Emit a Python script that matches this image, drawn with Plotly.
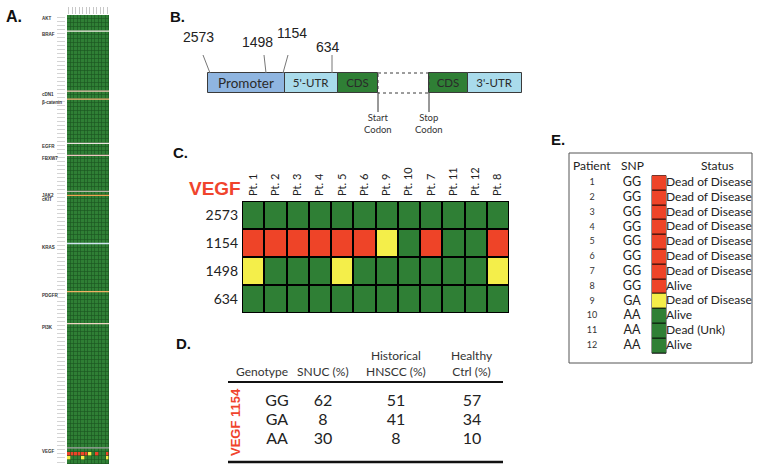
import plotly.graph_objects as go
import numpy as np

W, H = 764, 473
def px(x): return x / W
def py(y): return 1 - y / H

GREEN, YELLOW, RED = "#2f7f35", "#f4ee4a", "#ee4428"
CSCALE = [[0, GREEN], [0.333, GREEN], [0.333, YELLOW], [0.667, YELLOW], [0.667, RED], [1, RED]]
TXT = "#2a2a2a"
SANS = "Lato"
ARIAL = "Liberation Sans"

# ---------------- Panel A data ----------------
genes_a = ["AKT", "BRAF", "cDN1", "β-catenin", "EGFR", "FBXW7", "JAK2", "cKIT", "KRAS", "PDGFR", "PI3K", "VEGF"]
gene_rows_a = [4, 15, 2, 11, 3, 9, 1, 12, 12, 8, 31, 4]
sep_colors_a = ["#f4efe6", "#f0c8b4", "#f0b274", "#ece4e0", "#f0c8c0", "#b8b8a8",
                "#f0a454", "#cfe3f0", "#f0b064", "#f0d4c4", "#a8a8a8"]
vegf_a = [[0, 0, 0, 0, 0, 0, 0, 0, 0, 0, 0, 0],
          [2, 2, 2, 2, 2, 2, 1, 0, 2, 0, 0, 2],
          [1, 0, 0, 0, 1, 0, 0, 0, 0, 0, 0, 1],
          [0, 0, 0, 0, 0, 0, 0, 0, 0, 0, 0, 0]]

# ---------------- Panel B data ----------------
seg_names_b = ["Promoter", "5'-UTR", "CDS", "", "CDS", "3'-UTR"]
seg_len_b = [77, 53, 40, 51, 39, 54]
seg_colors_b = ["#8fb5e0", "#a9dbeb", GREEN, "white", GREEN, "#a9dbeb"]
snp_names_b = ["2573", "1498", "1154", "634"]
snp_pos_b = [2, 58, 75, 124]

# ---------------- Panel C data ----------------
pt_labels_c = ["Pt. 1", "Pt. 2", "Pt. 3", "Pt. 4", "Pt. 5", "Pt. 6", "Pt. 9", "Pt. 10", "Pt. 7", "Pt. 11", "Pt. 12", "Pt. 8"]
snp_rows_c = ["2573", "1154", "1498", "634"]
geno_2573 = [0, 0, 0, 0, 0, 0, 0, 0, 0, 0, 0, 0]
geno_1154 = [2, 2, 2, 2, 2, 2, 1, 0, 2, 0, 0, 2]
geno_1498 = [1, 0, 0, 0, 1, 0, 0, 0, 0, 0, 0, 1]
geno_634 = [0, 0, 0, 0, 0, 0, 0, 0, 0, 0, 0, 0]

# ---------------- Panel D data ----------------
genotypes_d = ["GG", "GA", "AA"]
snuc_pct = [62, 8, 30]
hnscc_pct = [51, 41, 8]
healthy_pct = [57, 34, 10]
headers_d = ["Genotype", "SNUC (%)", "Historical<br>HNSCC (%)", "Healthy<br>Ctrl (%)"]

# ---------------- Panel E data ----------------
patients_e = [1, 2, 3, 4, 5, 6, 7, 8, 9, 10, 11, 12]
snp_e = ["GG", "GG", "GG", "GG", "GG", "GG", "GG", "GG", "GA", "AA", "AA", "AA"]
code_e = [2, 2, 2, 2, 2, 2, 2, 2, 1, 0, 0, 0]
status_e = ["Dead of Disease"] * 7 + ["Alive", "Dead of Disease", "Alive", "Dead (Unk)", "Alive"]

fig = go.Figure()
shapes, annots = [], []

# ======== Panel A ========
nrows_a = sum(gene_rows_a)
z_a = np.zeros((nrows_a, 12))
z_a[-4:, :] = np.array(vegf_a)
fig.add_trace(go.Heatmap(z=z_a, x=list(range(12)), y=list(range(nrows_a)), colorscale=CSCALE,
                         zmin=0, zmax=2, showscale=False, xgap=0.6, ygap=0.6,
                         xaxis="x", yaxis="y", hoverinfo="skip"))
starts_a = np.concatenate([[0], np.cumsum(gene_rows_a)[:-1]])
shapes.append(dict(type="rect", xref="x", yref="y", x0=-0.5, x1=11.5, y0=-0.5, y1=nrows_a - 0.5,
                   fillcolor="#1c5420", line=dict(width=0), layer="below"))
for g, s in zip(genes_a, starts_a):
    annots.append(dict(x=px(40), xref="paper", xanchor="left", yanchor="middle", y=s + 0.4, yref="y",
                       text=f"<b>{g}</b>", showarrow=False,
                       font=dict(family=ARIAL, size=4.5, color="#333")))
for s, c in zip(starts_a[1:], sep_colors_a):
    shapes.append(dict(type="line", xref="x", yref="y", x0=-0.5, x1=11.5, y0=s - 0.5, y1=s - 0.5,
                       line=dict(color=c, width=1.3)))

# ======== Panel B ========
starts_b = np.concatenate([[0], np.cumsum(seg_len_b)[:-1]])
fig.add_trace(go.Bar(y=[83] * 6, x=seg_len_b, base=starts_b, orientation="h", width=20,
                     marker=dict(color=seg_colors_b, line=dict(color="#3a3a3a", width=[1, 1, 1, 0, 1, 1])),
                     text=seg_names_b, textposition="inside", insidetextanchor="middle", textangle=0,
                     constraintext="none",
                     insidetextfont=dict(family=SANS, size=[13.5, 11.5, 11.5, 11, 11.5, 11.5], color=TXT),
                     textfont=dict(family=SANS, size=[13.5, 11.5, 11.5, 11, 11.5, 11.5], color=TXT),
                     xaxis="x3", yaxis="y3", hoverinfo="skip", showlegend=False))
mid0, mid1 = starts_b[3], starts_b[3] + seg_len_b[3]
shapes.append(dict(type="rect", xref="x3", yref="y3", x0=mid0, x1=mid1, y0=73, y1=93,
                   line=dict(color="#3a3a3a", width=1, dash="dot")))
lab_dx_b = [-12, -9, 9, -4]
lab_y_b = [37, 42, 33, 47]
top_dx_b = [-7, -2, 5, 0]
for name, pos, dx, ly, tx in zip(snp_names_b, snp_pos_b, lab_dx_b, lab_y_b, top_dx_b):
    fig.add_trace(go.Scatter(x=[pos + tx, pos], y=[55, 73], mode="lines", line=dict(color="#777", width=1),
                             xaxis="x3", yaxis="y3", hoverinfo="skip", showlegend=False))
    annots.append(dict(x=pos + dx, y=ly, xref="x3", yref="y3", text=name, showarrow=False,
                       xanchor="center", yanchor="middle",
                       font=dict(family=ARIAL, size=14, color="#222")))
for xc, lab in zip([mid0, mid1], ["Start<br>Codon", "Stop<br>Codon"]):
    fig.add_trace(go.Scatter(x=[xc, xc], y=[93, 112], mode="lines", line=dict(color="#333", width=1),
                             xaxis="x3", yaxis="y3", hoverinfo="skip", showlegend=False))
    annots.append(dict(x=xc, y=123, xref="x3", yref="y3", text=lab, showarrow=False,
                       xanchor="center", yanchor="middle",
                       font=dict(family=SANS, size=9.5, color="#333")))

# ======== Panel C ========
z_c = [geno_2573, geno_1154, geno_1498, geno_634]
fig.add_trace(go.Heatmap(z=z_c, x=list(range(12)), y=list(range(4)), colorscale=CSCALE, zmin=0, zmax=2,
                         showscale=False, xgap=2, ygap=2, xaxis="x2", yaxis="y2", hoverinfo="skip"))
shapes.append(dict(type="rect", xref="x2", yref="y2", x0=-0.5, x1=11.5, y0=-0.5, y1=3.5,
                   fillcolor="black", line=dict(color="black", width=2), layer="below"))
shapes.append(dict(type="line", xref="x2", yref="y2", x0=-0.5, x1=11.5, y0=3.58, y1=3.58,
                   line=dict(color="#3b8a9a", width=1.5)))
annots.append(dict(x=px(215), y=py(188), xref="paper", yref="paper", text="<b>VEGF</b>", showarrow=False,
                   xanchor="center", yanchor="middle",
                   font=dict(family=ARIAL, size=19, color="#f0442c")))

# ======== Panel D ========
col_x_d = [277, 323, 396, 472]
head_x_d = [262, 323, 396, 472]
row_y_d = [402, 421, 440]
for xc, vals in zip(col_x_d, [genotypes_d, snuc_pct, hnscc_pct, healthy_pct]):
    fig.add_trace(go.Scatter(x=[xc] * 3, y=row_y_d, mode="text", text=[str(v) for v in vals],
                             textfont=dict(family=SANS, size=16, color="#222"), cliponaxis=False,
                             xaxis="x4", yaxis="y4", hoverinfo="skip", showlegend=False))
for hx, h in zip(head_x_d, headers_d):
    annots.append(dict(x=hx, y=381, xref="x4", yref="y4", yanchor="bottom", xanchor="center", text=h,
                       showarrow=False, font=dict(family=SANS, size=12, color="#333")))
for yy, ww in [(382, 2), (462, 2.5)]:
    shapes.append(dict(type="line", xref="x4", yref="y4", x0=228, x1=503, y0=yy, y1=yy,
                       line=dict(color="#111", width=ww)))
annots.append(dict(x=235, y=422, xref="x4", yref="y4", text="<b>VEGF 1154</b>", textangle=-90,
                   xanchor="center", yanchor="middle",
                   showarrow=False, font=dict(family=ARIAL, size=13, color="#f0442c")))

# ======== Panel E ========
fig.add_trace(go.Heatmap(z=[[c] for c in code_e], x=[652, 666], y=[i + 0.5 for i in range(13)],
                         colorscale=CSCALE, zmin=0, zmax=2, showscale=False, ygap=1,
                         xaxis="x5", yaxis="y5", hoverinfo="skip"))
shapes.append(dict(type="rect", xref="x5", yref="y5", x0=652, x1=666, y0=0.5, y1=12.5,
                   fillcolor="black", line=dict(color="#222", width=1), layer="below"))
fig.add_trace(go.Scatter(x=[592] * 12, y=patients_e, mode="text", text=[str(p) for p in patients_e],
                         textfont=dict(family=SANS, size=9, color="#333"), cliponaxis=False,
                         xaxis="x5", yaxis="y5", hoverinfo="skip", showlegend=False))
fig.add_trace(go.Scatter(x=[632] * 12, y=patients_e, mode="text", text=snp_e,
                         textfont=dict(family=SANS, size=12.5, color="#222"), cliponaxis=False,
                         xaxis="x5", yaxis="y5", hoverinfo="skip", showlegend=False))
fig.add_trace(go.Scatter(x=[666] * 12, y=patients_e, mode="text", text=status_e, textposition="middle right",
                         textfont=dict(family=SANS, size=12, color="#222"), cliponaxis=False,
                         xaxis="x5", yaxis="y5", hoverinfo="skip", showlegend=False))
for hx, h in zip([592, 632, 717], ["Patient", "SNP", "Status"]):
    annots.append(dict(x=hx, y=-0.15, xref="x5", yref="y5", text=h, showarrow=False,
                       xanchor="center", yanchor="middle",
                       font=dict(family=SANS, size=12, color="#222")))
shapes.append(dict(type="rect", xref="paper", yref="paper", x0=px(569), x1=px(752), y0=py(363), y1=py(153),
                   line=dict(color="#555", width=1)))

# ======== Panel letters ========
for lab, x, y, s in [("A.", 4, 17, 16), ("B.", 168, 16, 15), ("C.", 171, 152, 15),
                     ("D.", 174, 343, 15), ("E.", 549, 139, 15)]:
    annots.append(dict(x=px(x), y=py(y), xref="paper", yref="paper", xanchor="left", yanchor="middle",
                       text=f"<b>{lab}</b>", showarrow=False, font=dict(family=ARIAL, size=s, color="#111")))

hidden = dict(showgrid=False, zeroline=False, showticklabels=False, ticks="", showline=False)
fig.update_layout(
    width=W, height=H, margin=dict(l=0, r=0, t=0, b=0), paper_bgcolor="white", plot_bgcolor="rgba(0,0,0,0)",
    font=dict(family=SANS, color=TXT), showlegend=False,
    xaxis=dict(domain=[px(67), px(109)], range=[-0.5, 11.5], side="top", tickvals=list(range(12)),
               ticks="outside", ticklen=7, tickcolor="#c8c8c8", showticklabels=False,
               showgrid=False, zeroline=False),
    yaxis=dict(domain=[py(464), py(15)], range=[nrows_a - 0.5, -0.5], tickvals=list(range(nrows_a)),
               ticks="outside", ticklen=8, tickcolor="#d4d4d4", showticklabels=False,
               showgrid=False, zeroline=False, anchor="free", position=px(65)),
    xaxis2=dict(domain=[px(242), px(509)], range=[-0.5, 11.5], side="top", tickvals=list(range(12)),
                ticktext=pt_labels_c, tickangle=-90, tickfont=dict(family=SANS, size=11, color="#222"),
                ticks="", showgrid=False, zeroline=False, anchor="y2", ticklabelstandoff=4),
    yaxis2=dict(domain=[py(313), py(201)], range=[3.5, -0.5], tickvals=list(range(4)), ticktext=snp_rows_c,
                tickfont=dict(family=SANS, size=14, color="#222"), ticks="", showgrid=False,
                zeroline=False, anchor="x2", ticklabelstandoff=3),
    xaxis3=dict(domain=[px(170), px(540)], range=[-38, 332], anchor="y3", **hidden),
    yaxis3=dict(domain=[py(140), 1], range=[140, 0], anchor="x3", **hidden),
    xaxis4=dict(domain=[px(200), px(510)], range=[200, 510], anchor="y4", **hidden),
    yaxis4=dict(domain=[py(470), py(340)], range=[470, 340], anchor="x4", **hidden),
    xaxis5=dict(domain=[px(569), px(752)], range=[569, 752], anchor="y5", **hidden),
    yaxis5=dict(domain=[py(363), py(153)], range=[13.16, -1.027], anchor="x5", **hidden),
    shapes=shapes, annotations=annots, bargap=0,
)
fig.write_html("out.html", config={"displayModeBar": False},
               post_script="document.body.style.margin='0px';document.body.style.overflow='hidden';")
